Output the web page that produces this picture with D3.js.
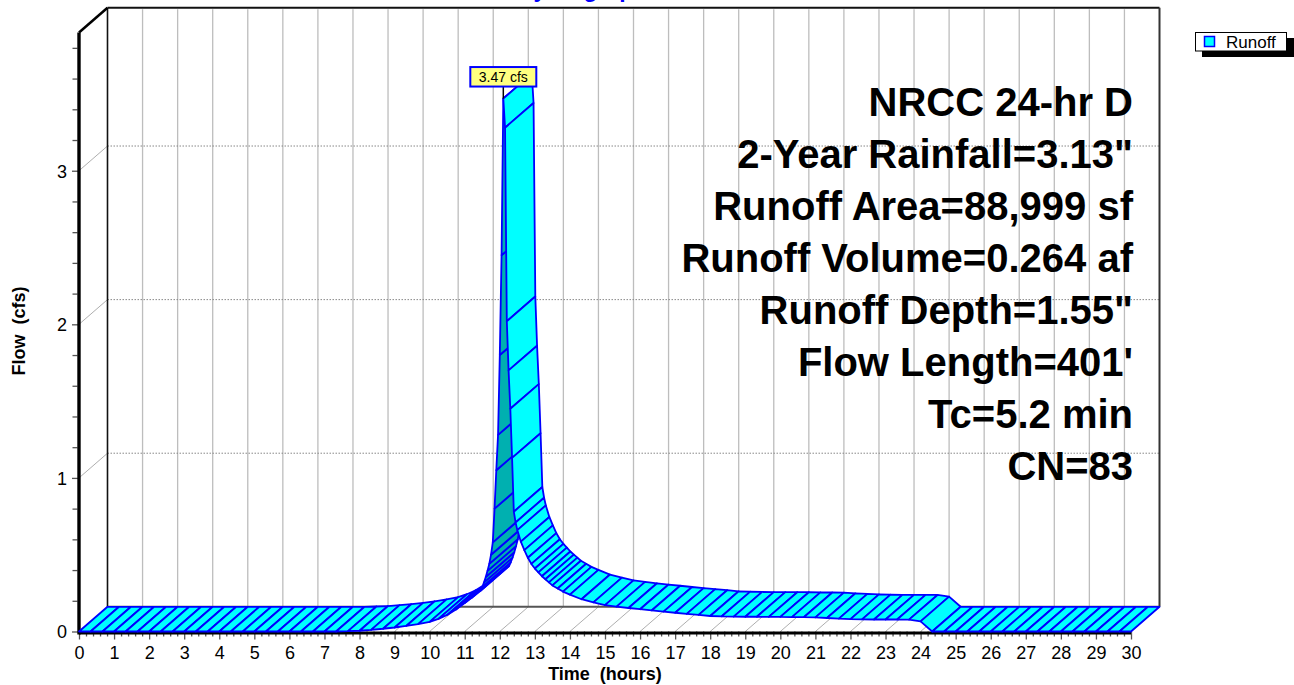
<!DOCTYPE html>
<html><head><meta charset="utf-8">
<script src="https://cdn.jsdelivr.net/npm/d3@7"></script>
<style>
body{margin:0;background:#fff;}
svg{display:block;font-family:"Liberation Sans",Arial,Helvetica,sans-serif;}
</style>
</head><body>
<svg id="c" width="1294" height="685"></svg>
<script>
// ---- data (hours, cfs) ----
const times = [
 0, 0.33, 0.67, 1, 1.33, 1.67, 2, 2.33, 2.67, 3, 3.33, 3.67, 4, 4.33, 4.67, 5, 5.33, 5.67, 6, 6.33, 6.67, 7, 7.33, 7.67,
 8, 8.33, 8.67, 9, 9.33, 9.67, 10, 10.25, 10.5, 10.75, 11, 11.2, 11.45,
 11.5, 11.55, 11.6, 11.65, 11.7, 11.75, 11.8, 11.85, 11.9, 11.95, 12, 12.05, 12.1,
 12.15, 12.2, 12.25, 12.3, 12.35, 12.4, 12.45, 12.5, 12.6, 12.7, 12.8, 12.9, 13,
 13.1, 13.2, 13.3, 13.4, 13.5, 13.65, 13.8, 14, 14.33, 14.67, 15, 15.33, 15.67, 16,
 16.33, 16.67, 17, 17.33, 17.67, 18, 18.33, 18.67, 19, 19.33, 19.67, 20, 20.33, 20.67,
 21, 21.33, 21.67, 22, 22.33, 22.67, 23, 23.33, 23.67, 24, 24.33,
 24.67, 25, 25.33, 25.67, 26, 26.33, 26.67, 27, 27.33, 27.67, 28, 28.33, 28.67, 29, 29.33, 29.67, 30
];
const flows = [
 0, 0, 0, 0, 0, 0, 0, 0, 0, 0, 0, 0, 0, 0, 0, 0, 0, 0, 0, 0, 0, 0, 0, 0.002,
 0.005, 0.011, 0.018, 0.026, 0.036, 0.048, 0.063, 0.082, 0.108, 0.143, 0.185, 0.22, 0.265,
 0.29, 0.32, 0.355, 0.395, 0.44, 0.5, 0.58, 0.8, 1.05, 1.28, 1.8, 2.45, 3.47,
 3.28, 2.02, 1.7, 1.45, 1.13, 0.78, 0.71, 0.66, 0.585, 0.53, 0.48, 0.44, 0.41,
 0.385, 0.36, 0.34, 0.32, 0.3, 0.28, 0.26, 0.24, 0.21, 0.19, 0.172, 0.162, 0.153, 0.145,
 0.137, 0.129, 0.122, 0.115, 0.108, 0.101, 0.099, 0.097, 0.096, 0.096, 0.095, 0.095, 0.094, 0.093,
 0.092, 0.088, 0.084, 0.081, 0.079, 0.078, 0.078, 0.078, 0.077, 0.066, 0,
 0, 0, 0, 0, 0, 0, 0, 0, 0, 0, 0, 0, 0, 0, 0, 0, 0
];
const xTickValues = [0,1,2,3,4,5,6,7,8,9,10,11,12,13,14,15,16,17,18,19,20,21,22,23,24,25,26,27,28,29,30];
const yTickValues = [0,1,2,3];
const infoLines = ["NRCC 24-hr D","2-Year Rainfall=3.13\"","Runoff Area=88,999 sf","Runoff Volume=0.264 af","Runoff Depth=1.55\"","Flow Length=401'","Tc=5.2 min","CN=83"];
const seriesName = "Runoff";
const titleText = "Hydrograph";

// ---- layout ----
const svg = d3.select("#c");
const x = d3.scaleLinear().domain([0,30]).range([79,1131]);
const y = d3.scaleLinear().domain([0,3.9]).range([631.5,32.5]);
const dx = 28.5, dy = -24.7;
const y0 = y(0), yTop = y(3.9);
const bx0 = x(0)+dx, bx1 = x(30)+dx, by0 = y0+dy, byTop = yTop+dy;

// title (mostly cut off above the view, as in the reference)
svg.append("text").attr("x",517).attr("y",-3).attr("font-size",23).attr("font-weight","bold")
  .attr("fill","#0000ff").text(titleText);

const g = svg.append("g");
// back wall vertical grid
g.selectAll(".vg").data(xTickValues.filter(h=>h>0&&h<30)).enter().append("line")
  .attr("x1",d=>x(d)+dx).attr("x2",d=>x(d)+dx).attr("y1",byTop+1.5).attr("y2",by0)
  .attr("stroke","#bdbdbd").attr("stroke-width",1.3);
// back wall horizontal dotted grid
g.selectAll(".hg").data(yTickValues.filter(v=>v>0)).enter().append("line")
  .attr("x1",bx0).attr("x2",bx1).attr("y1",d=>y(d)+dy).attr("y2",d=>y(d)+dy)
  .attr("stroke","#888").attr("stroke-width",1).attr("stroke-dasharray","1.5,1.5");
// left side wall connectors
g.selectAll(".yc").data(yTickValues.filter(v=>v>0)).enter().append("line")
  .attr("x1",x(0)).attr("x2",x(0)+dx).attr("y1",d=>y(d)).attr("y2",d=>y(d)+dy)
  .attr("stroke","#999").attr("stroke-width",0.8);
// floor diagonals
g.selectAll(".fd").data(xTickValues).enter().append("line")
  .attr("x1",d=>x(d)).attr("x2",d=>x(d)+dx).attr("y1",y0).attr("y2",by0)
  .attr("stroke","#999").attr("stroke-width",0.8);
// back floor line
g.append("line").attr("x1",bx0).attr("x2",bx1).attr("y1",by0).attr("y2",by0)
  .attr("stroke","#555").attr("stroke-width",2);
// back frame
g.append("line").attr("x1",bx0).attr("x2",bx1).attr("y1",byTop).attr("y2",byTop).attr("stroke","#111").attr("stroke-width",2);
g.append("line").attr("x1",bx0).attr("x2",bx0).attr("y1",byTop).attr("y2",by0).attr("stroke","#111").attr("stroke-width",1.6);
g.append("line").attr("x1",bx1).attr("x2",bx1).attr("y1",byTop).attr("y2",by0).attr("stroke","#333").attr("stroke-width",2);
g.append("line").attr("x1",x(0)).attr("x2",bx0).attr("y1",yTop).attr("y2",byTop).attr("stroke","#000").attr("stroke-width",2.5);

// axes
const xMinor = d3.range(0,30.0001,0.2).filter(v=>Math.abs(v-Math.round(v))>0.01);
const yMinor = d3.range(0,3.8001,0.2).filter(v=>Math.abs(v-Math.round(v))>0.01);
const axX = svg.append("g").attr("transform",`translate(0,${y0})`)
  .call(d3.axisBottom(x).tickValues(xTickValues).tickSize(8).tickPadding(7).tickFormat(d3.format("d")));
const axXm = svg.append("g").attr("transform",`translate(0,${y0})`)
  .call(d3.axisBottom(x).tickValues(xMinor).tickSize(5).tickFormat(""));
const axY = svg.append("g").attr("transform",`translate(${x(0)},0)`)
  .call(d3.axisLeft(y).tickValues(yTickValues).tickSize(7).tickPadding(5).tickFormat(d3.format("d")));
const axYm = svg.append("g").attr("transform",`translate(${x(0)-1.5},0)`)
  .call(d3.axisLeft(y).tickValues(yMinor).tickSize(5).tickFormat(""));
[axX,axXm,axY,axYm].forEach(a=>{
  a.attr("font-size",18).attr("font-family","Liberation Sans, Arial, sans-serif");
  a.select(".domain").remove();
  a.selectAll("line").attr("stroke","#555").attr("stroke-width",1.3);
  a.selectAll("text").attr("font-size",18).attr("fill","#000");
});
axY.selectAll("text").attr("dy","0.36em");
// thick front axis lines
svg.append("line").attr("x1",x(0)).attr("x2",x(30)).attr("y1",y0+1.5).attr("y2",y0+1.5).attr("stroke","#000").attr("stroke-width",3.2);
svg.append("line").attr("x1",x(0)).attr("x2",x(0)).attr("y1",yTop).attr("y2",y0+3).attr("stroke","#000").attr("stroke-width",3.4);

// axis titles
svg.append("text").attr("x",605).attr("y",680).attr("text-anchor","middle").attr("font-size",18).attr("font-weight","bold").attr("xml:space","preserve").text("Time  (hours)");
svg.append("text").attr("transform","translate(25,331) rotate(-90)").attr("text-anchor","middle").attr("font-size",18).attr("font-weight","bold").attr("xml:space","preserve").text("Flow  (cfs)");

// ribbon
const pts = times.map((t,i)=>[x(t), y(flows[i])]);
const quads = [];
for (let i=0;i<pts.length-1;i++){
  const a=pts[i], b=pts[i+1];
  const sx=b[0]-a[0], sy=b[1]-a[1];
  const cross = sx*dy - sy*dx;
  quads.push({p:[a,b,[b[0]+dx,b[1]+dy],[a[0]+dx,a[1]+dy]], under: cross>0});
}
svg.append("g").selectAll("path").data(quads).enter().append("path")
  .attr("d",d=>"M"+d.p.map(p=>p.join(",")).join("L")+"Z")
  .attr("fill",d=>d.under?"#00b0b0":"#00ffff")
  .attr("stroke","#0000ff").attr("stroke-width",1.8).attr("stroke-linejoin","round");

// peak label
const pi = d3.maxIndex(flows);
const px = x(times[pi]), py = y(flows[pi]);
svg.append("line").attr("x1",px).attr("x2",px).attr("y1",py).attr("y2",py-12).attr("stroke","#000").attr("stroke-width",1.5);
svg.append("rect").attr("x",px-33).attr("y",py-31.5).attr("width",66).attr("height",19.5)
  .attr("fill","#ffff80").attr("stroke","#0000ff").attr("stroke-width",2);
svg.append("text").attr("x",px).attr("y",py-16.5).attr("text-anchor","middle").attr("font-size",14).attr("fill","#000")
  .text(flows[pi].toFixed(2)+" cfs");

// info block
svg.append("g").selectAll("text").data(infoLines).enter().append("text")
  .attr("x",1133).attr("y",(d,i)=>116+i*52).attr("text-anchor","end")
  .attr("font-size",40).attr("font-weight","bold").attr("fill","#000").text(d=>d);

// legend
svg.append("rect").attr("x",1202).attr("y",38).attr("width",92).attr("height",19).attr("fill","#000");
svg.append("rect").attr("x",1195.5).attr("y",32.5).attr("width",91).attr("height",18.5).attr("fill","#fff").attr("stroke","#000").attr("stroke-width",1);
svg.append("rect").attr("x",1204.5).attr("y",36.5).attr("width",10).attr("height",10).attr("fill","#00ffff").attr("stroke","#0000ff").attr("stroke-width",1.5);
svg.append("text").attr("x",1226).attr("y",48.3).attr("font-size",17).attr("fill","#000").text(seriesName);
</script>
</body></html>
